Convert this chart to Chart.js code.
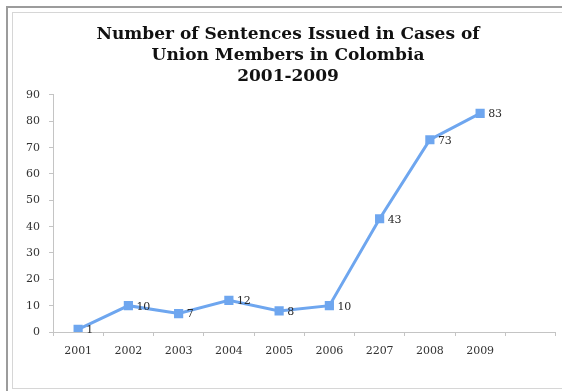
<!DOCTYPE html>
<html lang="en">
<head>
  <meta charset="UTF-8">
  <title>Sentences Issued</title>
  <script src="https://cdn.jsdelivr.net/npm/chart.js"></script>
  <style>
    body {
      margin: 0;
      background: #fff;
      font-family: "DejaVu Serif", serif;
    }
    #outer {
      position: absolute;
      left: 6px;
      top: 6px;
      width: 600px;
      height: 400px;
      border-left: 2px solid #9c9c9c;
      border-top: 2px solid #9c9c9c;
    }
    #inner {
      position: absolute;
      left: 12px;
      top: 12px;
      width: 600px;
      height: 375px;
      border: 1px solid #d6d6d6;
    }
    #wrap {
      position: absolute;
      left: 0;
      top: 0;
      width: 562px;
      height: 391px;
    }
  </style>
</head>
<body>
  <div id="outer"></div>
  <div id="inner"></div>
  <div id="wrap"><canvas id="chart"></canvas></div>

  <script>
    // data
    const years = ['2001', '2002', '2003', '2004', '2005', '2006', '2207', '2008', '2009', ''];
    const sentences = [1, 10, 7, 12, 8, 10, 43, 73, 83, null];
    const yTicks = [0, 10, 20, 30, 40, 50, 60, 70, 80, 90];

    const blue = '#6ea6ef';

    // value labels to the right of each point
    const pointLabels = {
      id: 'pointLabels',
      afterDatasetsDraw(chart) {
        const ctx = chart.ctx;
        const meta = chart.getDatasetMeta(0);
        ctx.save();
        ctx.font = '11px "DejaVu Serif", serif';
        ctx.fillStyle = '#2a2a2a';
        ctx.textAlign = 'left';
        ctx.textBaseline = 'middle';
        meta.data.forEach(function(pt, i) {
          if (sentences[i] === null) return;
          ctx.fillText(String(sentences[i]), pt.x + 8, pt.y + 1);
        });
        ctx.restore();
      }
    };

    var ctx = document.getElementById('chart').getContext('2d');
    var chart = new Chart(ctx, {
      type: 'line',
      data: {
        labels: years,
        datasets: [{
          label: 'Sentences',
          data: sentences,
          borderColor: blue,
          backgroundColor: blue,
          borderWidth: 3,
          pointStyle: 'rect',
          pointRadius: 6.5,
          pointBorderWidth: 0,
          fill: false,
          tension: 0
        }]
      },
      options: {
        responsive: true,
        maintainAspectRatio: false,
        animation: false,
        layout: { padding: { left: 19, right: 5, top: 0, bottom: 0 } },
        plugins: {
          legend: { display: false },
          tooltip: { enabled: false },
          title: {
            display: true,
            text: ['Number of Sentences Issued in Cases of', 'Union Members in Colombia', '2001-2009'],
            color: '#111',
            font: { family: '"DejaVu Serif", serif', size: 17, weight: 'bold', lineHeight: 1.235 },
            padding: { top: 24.5, bottom: 7.5 }
          }
        },
        scales: {
          x: {
            offset: true,
            grid: { display: true, offset: true, drawOnChartArea: false, tickLength: 4, color: '#c4c4c4' },
            border: { color: '#c4c4c4', width: 1 },
            ticks: {
              color: '#333',
              font: { family: '"DejaVu Serif", serif', size: 11 },
              padding: 9,
              maxRotation: 0,
              autoSkip: false
            },
            afterFit(scale) { scale.height = 59; }
          },
          y: {
            min: 0,
            max: 90,
            afterBuildTicks(scale) { scale.ticks = yTicks.map(v => ({ value: v })); },
            grid: { display: true, drawOnChartArea: false, tickLength: 4, color: '#c4c4c4' },
            border: { color: '#c4c4c4', width: 1 },
            ticks: {
              color: '#333',
              font: { family: '"DejaVu Serif", serif', size: 11 },
              padding: 9
            },
            afterFit(scale) { scale.width = 34; }
          }
        }
      },
      plugins: [pointLabels]
    });
  </script>
</body>
</html>
